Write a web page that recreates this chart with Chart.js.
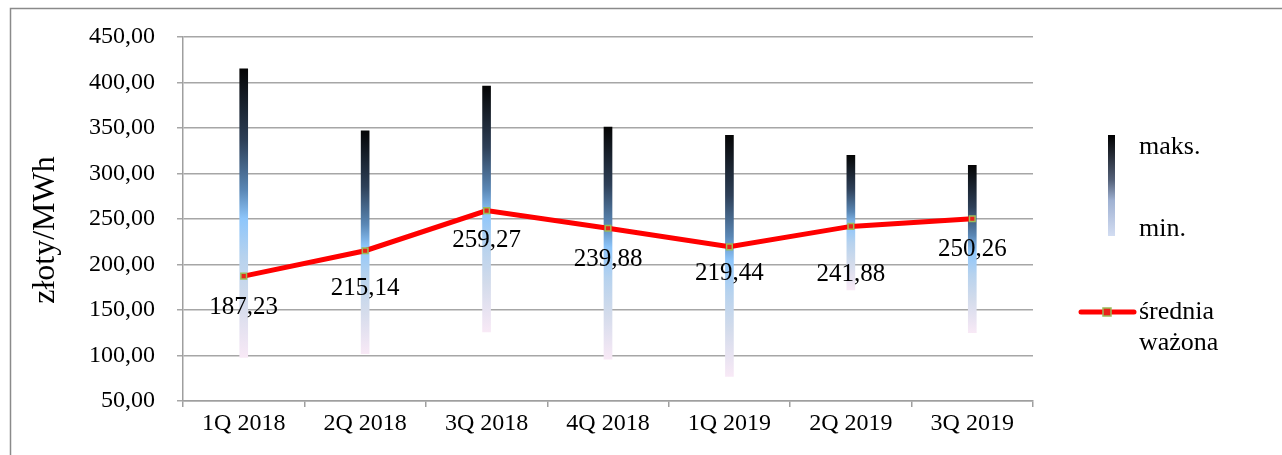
<!DOCTYPE html>
<html>
<head>
<meta charset="utf-8">
<script src="https://cdn.jsdelivr.net/npm/chart.js@4.4.1/dist/chart.umd.min.js"></script>
<style>
  html, body { margin: 0; padding: 0; background: #fff; overflow: hidden; }
</style>
</head>
<body>
<canvas id="priceChart" width="1282" height="455"></canvas>
<script>
// quarterly prices, zł/MWh
const categories = ['1Q 2018', '2Q 2018', '3Q 2018', '4Q 2018', '1Q 2019', '2Q 2019', '3Q 2019'];
const maxValues = [415, 347, 396, 351, 342, 320, 309];
const minValues = [98, 102, 126, 96, 77, 172, 125];
const avgValues = [187.23, 215.14, 259.27, 239.88, 219.44, 241.88, 250.26];
const yMin = 50;
const yMax = 450;
const yStep = 50;

const axisTitle = 'złoty/MWh';
const legendMax = 'maks.';
const legendMin = 'min.';
const legendAvg = ['średnia', 'ważona'];

// how far below each point its value label sits (px)
const labelDy = [31, 38, 30, 31, 27, 48, 31];

const FONT = 'Liberation Serif';
Chart.defaults.font.family = FONT;
Chart.defaults.color = '#000';

function fmt(v) {
    return Number(v).toFixed(2).replace('.', ',');
}

function addBarStops(g) {
    g.addColorStop(0, '#050505');
    g.addColorStop(0.25, '#2e4058');
    g.addColorStop(0.42, '#5a87b5');
    g.addColorStop(0.52, '#8ec6fb');
    g.addColorStop(0.65, '#b6d2ee');
    g.addColorStop(0.8, '#d2dbeb');
    g.addColorStop(1, '#f8e9f6');
    return g;
}

function barGradient(ctx) {
    const chart = ctx.chart;
    const y = chart.scales.y;
    const i = ctx.dataIndex;
    if (!chart.chartArea || !y || i === undefined) return '#8ec6fb';
    const top = y.getPixelForValue(maxValues[i]);
    const bottom = y.getPixelForValue(minValues[i]);
    return addBarStops(chart.ctx.createLinearGradient(0, top, 0, bottom));
}

const overlay = {
    id: 'overlay',
    beforeDraw(chart) {
        const c = chart.ctx;
        c.save();
        c.fillStyle = '#fff';
        c.fillRect(0, 0, chart.width, chart.height);
        c.strokeStyle = '#8a8a8a';
        c.lineWidth = 1.5;
        c.beginPath();
        c.moveTo(10.5, chart.height);
        c.lineTo(10.5, 8.5);
        c.lineTo(chart.width, 8.5);
        c.stroke();
        c.restore();
    },
    afterDatasetsDraw(chart) {
        const c = chart.ctx;
        const meta = chart.getDatasetMeta(0);
        c.save();
        c.font = '25px "' + FONT + '"';
        c.fillStyle = '#000';
        c.textAlign = 'center';
        c.textBaseline = 'middle';
        meta.data.forEach((pt, i) => {
            c.fillText(fmt(avgValues[i]), pt.x, pt.y + labelDy[i]);
        });
        c.restore();
    },
    afterDraw(chart) {
        const c = chart.ctx;
        c.save();
        // y axis title
        c.font = '32px "' + FONT + '"';
        c.fillStyle = '#000';
        c.textAlign = 'center';
        c.textBaseline = 'middle';
        c.translate(46, 230);
        c.rotate(-Math.PI / 2);
        c.fillText(axisTitle, 0, 0);
        c.restore();

        // legend
        c.save();
        const g = c.createLinearGradient(0, 135, 0, 236);
        g.addColorStop(0, '#000');
        g.addColorStop(0.45, '#55627a');
        g.addColorStop(0.65, '#9fb1d2');
        g.addColorStop(1, '#d3ddf2');
        c.fillStyle = g;
        c.fillRect(1108, 135, 7, 101);

        c.strokeStyle = '#ff0000';
        c.lineWidth = 5;
        c.lineCap = 'round';
        c.beginPath();
        c.moveTo(1081, 312);
        c.lineTo(1134, 312);
        c.stroke();
        c.fillStyle = '#e8231a';
        c.strokeStyle = '#9bbb59';
        c.lineWidth = 1.5;
        c.fillRect(1103, 308, 8, 8);
        c.strokeRect(1103, 308, 8, 8);

        c.font = '26px "' + FONT + '"';
        c.fillStyle = '#000';
        c.textAlign = 'left';
        c.textBaseline = 'middle';
        c.fillText(legendMax, 1139, 147);
        c.fillText(legendMin, 1139, 229);
        c.fillText(legendAvg[0], 1139, 312);
        c.fillText(legendAvg[1], 1139, 343);
        c.restore();
    }
};

new Chart(document.getElementById('priceChart'), {
    data: {
        labels: categories,
        datasets: [
            {
                type: 'line',
                label: legendAvg.join(' '),
                data: avgValues,
                borderColor: '#ff0000',
                borderWidth: 5,
                tension: 0,
                pointStyle: 'rect',
                pointRadius: 4,
                pointBackgroundColor: '#e8231a',
                pointBorderColor: '#9bbb59',
                pointBorderWidth: 1.5,
                order: 1
            },
            {
                type: 'bar',
                label: legendMax + ' / ' + legendMin,
                data: categories.map((c, i) => [minValues[i], maxValues[i]]),
                backgroundColor: barGradient,
                borderWidth: 0,
                barThickness: 8,
                order: 2
            }
        ]
    },
    options: {
        responsive: false,
        animation: false,
        layout: { padding: { top: 37, right: 249, left: 0, bottom: 0 } },
        plugins: {
            legend: { display: false },
            tooltip: { enabled: false }
        },
        scales: {
            x: {
                offset: true,
                grid: {
                    offset: true,
                    drawOnChartArea: false,
                    drawTicks: true,
                    tickLength: 6,
                    color: '#9f9f9f',
                    lineWidth: 1.5
                },
                border: { color: '#9f9f9f', width: 1.5 },
                ticks: { font: { size: 24 }, padding: 2, color: '#000' },
                afterFit(scale) { scale.height = 54; }
            },
            y: {
                min: yMin,
                max: yMax,
                ticks: {
                    stepSize: yStep,
                    font: { size: 24 },
                    padding: 22,
                    color: '#000',
                    callback: (v) => fmt(v)
                },
                grid: { color: '#a6a6a6', lineWidth: 1.5, tickLength: 6 },
                border: { color: '#9f9f9f', width: 1.5 },
                afterFit(scale) { scale.width = 183; }
            }
        }
    },
    plugins: [overlay]
});
</script>
</body>
</html>
